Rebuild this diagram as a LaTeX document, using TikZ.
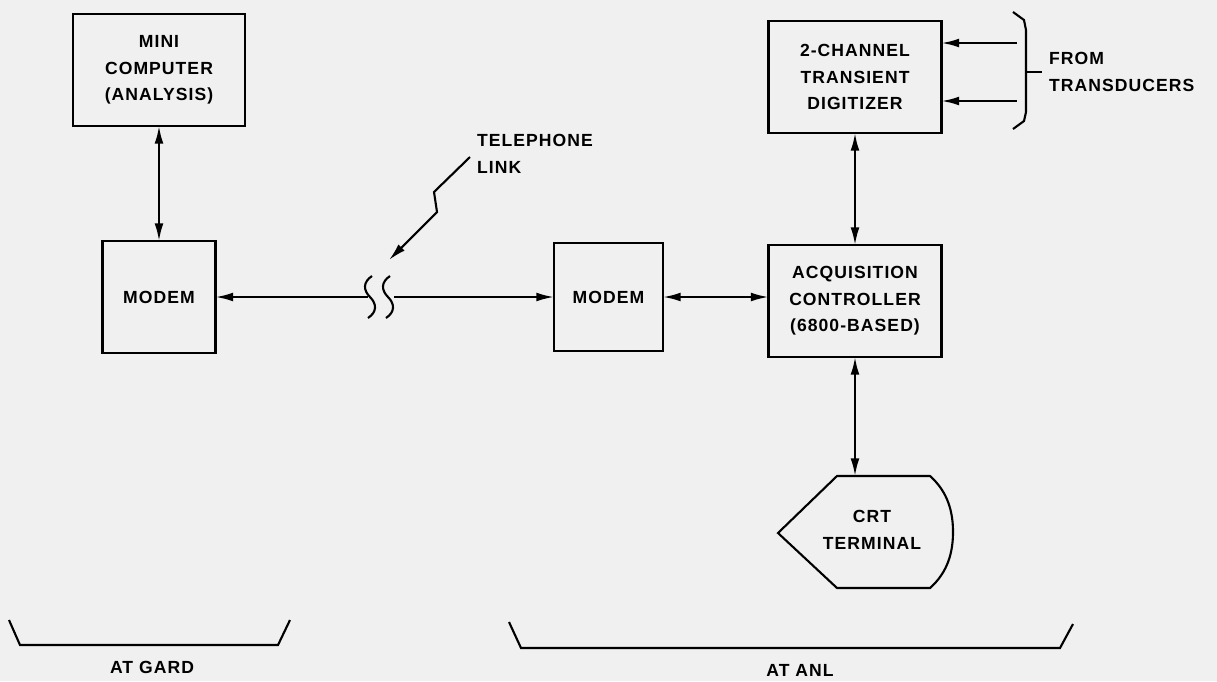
\documentclass[tikz,border=0pt]{standalone}
\usepackage{fontspec}
\setmainfont[LetterSpace=6]{Liberation Sans}
\usetikzlibrary{arrows.meta}

\begin{document}
\begin{tikzpicture}[x=0.02cm,y=-0.02cm,line width=1.2pt,
    >={Latex[length=10pt,width=5pt]},
    box/.style={draw,align=center,inner sep=0pt,outer sep=0pt,font=\fontsize{10}{15}\selectfont\bfseries},
    lbl/.style={align=left,inner sep=0pt,font=\fontsize{10}{15}\selectfont\bfseries}]
  \fill[black!6] (0,0) rectangle (1217,681);
  \useasboundingbox (0,0) rectangle (1217,681);
  % at gard
  \node[box,minimum width=3.44cm,minimum height=2.24cm] (mini) at (159,70) {MINI\\COMPUTER\\(ANALYSIS)};
  \node[box,minimum width=2.26cm,minimum height=2.24cm] (modemA) at (159,297) {MODEM};
  \draw[<->] (mini) -- (modemA);
  % telephone link
  \coordinate (brkL) at (368,297);
  \coordinate (brkR) at (394,297);
  \draw[<-] (modemA.east) -- (brkL);
  \draw (372,276) .. controls (363,282) and (363,290) .. (370,297) .. controls (377,304) and (377,312) .. (368,318);
  \draw (390,276) .. controls (381,282) and (381,290) .. (388,297) .. controls (395,304) and (395,312) .. (386,318);
  \draw[->] (470,157) -- (434,192) -- (437,212) -- (389,260);
  \node[lbl,anchor=west] (tel) at (476,154) {TELEPHONE\\LINK};
  % at anl
  \node[box,minimum width=2.18cm,minimum height=2.16cm] (modemB) at (608.5,297) {MODEM};
  \draw[->] (brkR) -- (modemB.west);
  \node[box,minimum width=3.46cm,minimum height=2.24cm] (digit) at (855,77) {2-CHANNEL\\TRANSIENT\\DIGITIZER};
  \node[box,minimum width=3.46cm,minimum height=2.24cm] (acq) at (855,301) {ACQUISITION\\CONTROLLER\\(6800-BASED)};
  \draw[<->] (modemB.east) -- (modemB.east -| acq.west);
  \draw[<->] (digit) -- (acq);
  % inputs
  \coordinate (in1) at (1017,43);
  \coordinate (in2) at (1017,101);
  \draw[->] (in1) -- (in1 -| digit.east);
  \draw[->] (in2) -- (in2 -| digit.east);
  \draw (1013,12) -- (1024,20) -- (1026,30) -- (1026,112) -- (1024,121) -- (1013,129);
  \draw (1026,72) -- (1042,72);
  \node[lbl,anchor=west] (src) at (1048,72) {FROM\\TRANSDUCERS};
  % crt terminal
  \node[align=center,font=\fontsize{10}{15}\selectfont\bfseries] (crt) at (872,530) {CRT\\TERMINAL};
  \coordinate (crttop) at (855,476);
  \draw (778,533) -- (837,476) -- (930,476) .. controls (948,492) and (953,512) .. (953,532)
    .. controls (953,552) and (948,572) .. (930,588) -- (837,588) -- cycle;
  \draw[<->] (acq) -- (crttop);
  % sites
  \draw (9,620) -- (20,645) -- (278,645) -- (290,620);
  \node[font=\fontsize{10}{15}\selectfont\bfseries] (gard) at (152,667) {AT GARD};
  \draw (509,622) -- (521,648) -- (1060,648) -- (1073,624);
  \node[font=\fontsize{10}{15}\selectfont\bfseries] (anl) at (800,670) {AT ANL};
\end{tikzpicture}
\end{document}
